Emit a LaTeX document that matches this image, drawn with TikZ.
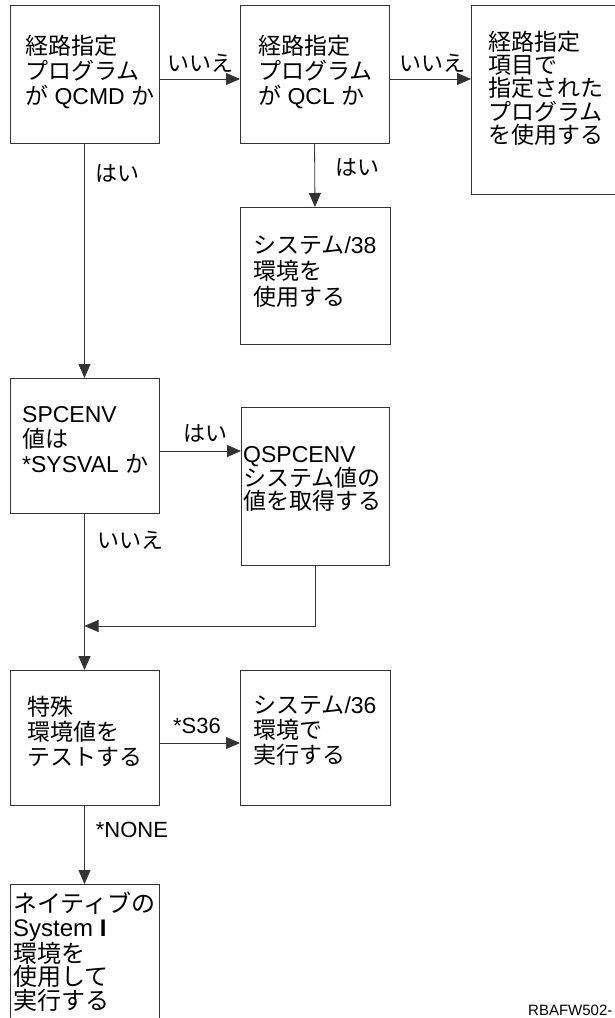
\documentclass[tikz,border=0pt]{standalone}
\usepackage{fontspec}
\setmainfont{Liberation Sans}
\newfontfamily\jpfont{Noto Sans CJK JP}
\newcommand{\J}[1]{{\jpfont #1}}
\usetikzlibrary{arrows.meta}
\begin{document}
\begin{tikzpicture}[x=1pt,y=-1pt,
  box/.style={draw=black!80, line width=1pt, inner sep=0pt, outer sep=0pt},
  txt/.style={anchor=north west, inner sep=0pt, align=left, font=\fontsize{23}{25}\selectfont},
  lbl/.style={inner sep=0pt, font=\fontsize{22}{24}\selectfont},
  arr/.style={draw=black!80, line width=0.8pt, -{Triangle[length=14pt,width=12pt]}}]
\useasboundingbox (0,0) rectangle (614,1018);

% boxes
\node[box, minimum width=149pt, minimum height=138pt] (b1) at (84.5,74) {};
\node[box, minimum width=149pt, minimum height=138pt] (b2) at (314.5,74) {};
\node[box, minimum width=159pt, minimum height=189pt] (b3) at (550.5,99.5) {};
\node[box, minimum width=150pt, minimum height=137pt] (b4) at (315,275.5) {};
\node[box, minimum width=149pt, minimum height=135pt] (b5) at (84.5,445.5) {};
\node[box, minimum width=148pt, minimum height=158pt] (b6) at (315,486) {};
\node[box, minimum width=149pt, minimum height=135pt] (b7) at (84.5,737.5) {};
\node[box, minimum width=150pt, minimum height=135pt] (b8) at (315,737.5) {};
\node[box, minimum width=149pt, minimum height=146pt] (b9) at (84.5,957) {};

% box texts
\node[txt] (t1) at (25,35) {\J{経路指定}\\\J{プログラム}\\\J{が} QCMD \J{か}};
\node[txt] (t2) at (258,35) {\J{経路指定}\\\J{プログラム}\\\J{が} QCL \J{か}};
\node[txt, font=\fontsize{23}{23.2}\selectfont] (t3) at (488,31) {\J{経路指定}\\\J{項目で}\\\J{指定された}\\\J{プログラム}\\\J{を使用する}};
\node[txt, font=\fontsize{23}{26}\selectfont] (t4) at (253,236) {\J{システム}/38\\\J{環境を}\\\J{使用する}};
\node[txt] (t5) at (22,406) {SPCENV\\\J{値は}\\*SYSVAL \J{か}};
\node[txt, font=\fontsize{23}{23}\selectfont] (t6) at (243,446) {QSPCENV\\\J{システム値の}\\\J{値を取得する}};
\node[txt] (t7) at (27,696) {\J{特殊}\\\J{環境値を}\\\J{テストする}};
\node[txt] (t8) at (253,696) {\J{システム}/36\\\J{環境で}\\\J{実行する}};
\node[txt, font=\fontsize{24}{23.5}\selectfont] (t9) at (13,892) {\J{ネイティブの}\\System \textbf{I}\\\J{環境を}\\\J{使用して}\\\J{実行する}};

% labels
\node[lbl] (l1) at (200,63) {\J{いいえ}};
\node[lbl] (l2) at (432,63) {\J{いいえ}};
\node[lbl] (l3) at (117,173) {\J{はい}};
\node[lbl] (l4) at (357,167) {\J{はい}};
\node[lbl] (l5) at (205,433) {\J{はい}};
\node[lbl] (l6) at (130,540) {\J{いいえ}};
\node[lbl] (l7) at (197,726) {*S36};
\node[lbl] (l8) at (132,830) {*NONE};
\node[inner sep=0pt, anchor=west, font=\fontsize{15}{17}\selectfont] (rb) at (528,1010) {RBAFW502-};

% connectors
\path (b5.south) ++(0,113) coordinate (j);
\draw[arr] ([yshift=-5pt]b1.east) -- ([yshift=-5pt]b2.west);
\draw[arr] ([yshift=-5pt]b2.east) -- ([yshift=-5pt]b2.east -| b3.west);
\draw[arr] (b2.south) -- (b4.north);
\draw[arr] (b1.south) -- (b5.north);
\draw[arr] ([yshift=-5.5pt]b5.east) -- ([yshift=-5.5pt]b5.east -| b6.west);
\draw[arr] (b6.south) |- (j);
\draw[arr] (b5.south) -- (b7.north);
\draw[arr] ([yshift=-5.5pt]b7.east) -- ([yshift=-5.5pt]b8.west);
\draw[arr] (b7.south) -- (b9.north);
\end{tikzpicture}
\end{document}
